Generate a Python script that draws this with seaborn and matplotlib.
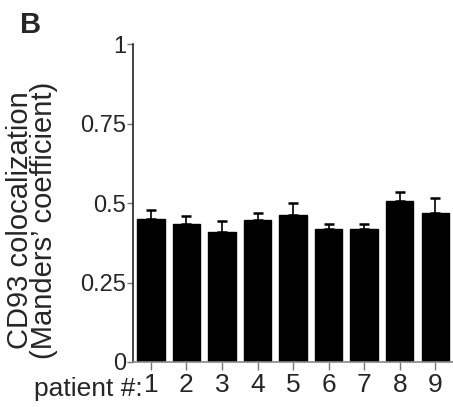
import numpy as np
import pandas as pd
import matplotlib
matplotlib.use("Agg")
import matplotlib.pyplot as plt
import seaborn as sns

# values
patients = ["1", "2", "3", "4", "5", "6", "7", "8", "9"]
manders = [0.449, 0.433, 0.408, 0.447, 0.463, 0.417, 0.417, 0.507, 0.468]
sem = [0.028, 0.027, 0.037, 0.022, 0.036, 0.016, 0.016, 0.027, 0.048]
yticks = [0, 0.25, 0.5, 0.75, 1]
yticklabels = ["0", "0.25", "0.5", "0.75", "1"]

df = pd.DataFrame({"patient": patients, "value": manders})

sns.set_style("white")
plt.rcParams["font.family"] = ["Liberation Sans", "DejaVu Sans"]

fig = plt.figure(figsize=(4.53, 4.07), dpi=100)
ax = fig.add_axes([0.294, 0.1106, 0.706, 0.781])

sns.barplot(data=df, x="patient", y="value", color="black", width=0.77,
            errorbar=None, saturation=1, edgecolor="black", ax=ax)

# upper error bars only
ax.errorbar(np.arange(len(patients)), manders,
            yerr=[np.zeros(len(sem)), sem], fmt="none",
            ecolor="black", elinewidth=1.2, capsize=3.5, capthick=1.8)

ax.set_xlim(-0.5, 8.5)
ax.set_ylim(0, 1)
ax.set_yticks(yticks)
ax.set_yticklabels(yticklabels)
ax.set_xlabel("")
ax.set_ylabel("")

for s in ["top", "right"]:
    ax.spines[s].set_visible(False)
ax.spines["left"].set_color("#222222")
ax.spines["left"].set_linewidth(1.2)
ax.spines["bottom"].set_color("#888888")
ax.spines["bottom"].set_linewidth(1.2)

ax.tick_params(axis="y", direction="out", length=4, width=1, color="#777777",
               labelsize=17, pad=1, left=True)
ax.tick_params(axis="x", direction="out", length=6, width=1, color="#777777",
               labelsize=19, pad=2, bottom=True)

fig.text(32 / 453, 1 - 220 / 407,
         "CD93 colocalization\n(Manders\u2019 coefficient)",
         rotation=90, ha="center", va="center", fontsize=21, linespacing=0.85)
fig.text(143 / 453, 1 - 396 / 407, "patient #:", ha="right", va="baseline",
         fontsize=19)
fig.text(20 / 453, 1 - 33 / 407, "B", ha="left", va="baseline",
         fontsize=21, fontweight="bold")

fig.savefig("out.png", dpi=100)
